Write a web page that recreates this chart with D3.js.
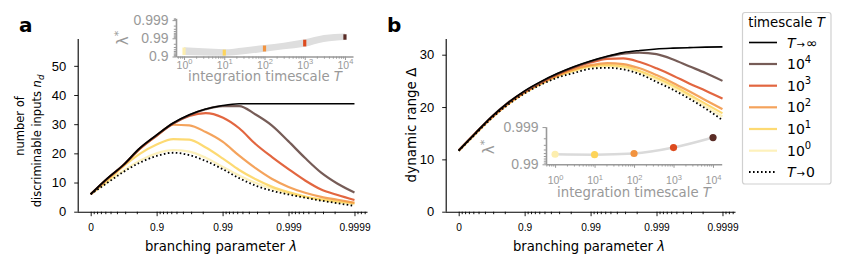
<!DOCTYPE html>
<html><head><meta charset="utf-8">
<script src="https://cdn.jsdelivr.net/npm/d3@7"></script>
<style>
body{margin:0;background:#fff;}
svg{display:block;font-family:"DejaVu Sans",sans-serif;}
</style></head>
<body><svg id="c" width="843" height="267"></svg>
<script>
// ---------- data ----------
const lambdaGrid = [0, 0.44, 0.68, 0.82, 0.9, 0.944, 0.968, 0.982, 0.99, 0.9944, 0.9968, 0.9982, 0.999, 0.99944, 0.99968, 0.99982, 0.9999];
const xTickLambdas = [0, 0.9, 0.99, 0.999, 0.9999];
const xTickLabels = ["0", "0.9", "0.99", "0.999", "0.9999"];
const seriesNames = ["Tinf", "1e4", "1e3", "1e2", "1e1", "1e0", "T0"];
const legendLabels = ["T→∞", "10^4", "10^3", "10^2", "10^1", "10^0", "T→0"];
const seriesColors = ["#000000", "#5e3f3a", "#dd4b1e", "#f2933f", "#fdd45a", "#fdeeb0", "#000000"];

// panel a: number of discriminable inputs n_d
const ndTinf = [6, 11.4, 16, 21.8, 26.3, 30.4, 33.2, 35.2, 36.4, 37, 37, 37, 37, 37, 37, 37, 37];
const nd1e4 = [6, 11.3, 16, 21.7, 26.2, 30.3, 33.1, 35.1, 36.2, 36.2, 33.4, 29.6, 24.1, 18.4, 13.4, 9.6, 6.6];
const nd1e3 = [6, 11.3, 15.9, 21.6, 26.1, 30.2, 32.8, 33.8, 32.3, 28.6, 23.3, 18.8, 14.6, 10.7, 7.6, 5.7, 4.0];
const nd1e2 = [6, 11.2, 15.9, 21.5, 26.0, 29.8, 29.6, 27.3, 24.0, 19.2, 15.0, 11.3, 8.5, 6.5, 5.1, 4.1, 3.1];
const nd1e1 = [6, 10.6, 15.5, 19.8, 23.0, 24.9, 24.7, 22.0, 18.3, 14.3, 11.2, 8.6, 6.7, 5.2, 4.2, 3.5, 2.9];
const nd1e0 = [6, 10.1, 14.0, 17.5, 20.0, 21.1, 20.6, 18.5, 15.4, 12.4, 9.9, 7.9, 6.3, 5.0, 4.0, 3.2, 2.6];
const ndT0 = [6, 9.9, 13.6, 16.8, 19.1, 20.2, 19.4, 17.4, 14.6, 11.5, 9.0, 7.2, 5.9, 4.8, 3.8, 2.9, 2.0];
const ndTicks = [0, 10, 20, 30, 40, 50];

// panel b: dynamic range Delta
const drTinf = [11.7, 15.0, 18.1, 20.8, 23.1, 24.9, 26.4, 27.7, 28.8, 29.7, 30.4, 30.8, 31.1, 31.25, 31.35, 31.45, 31.5];
const dr1e4 = [11.7, 15.0, 18.1, 20.8, 23.0, 24.8, 26.3, 27.6, 28.7, 29.6, 30.2, 30.4, 30.1, 29.1, 27.8, 26.5, 25.0];
const dr1e3 = [11.7, 15.0, 18.0, 20.7, 22.9, 24.7, 26.2, 27.5, 28.5, 29.2, 29.3, 28.6, 27.4, 26.0, 24.5, 23.1, 21.6];
const dr1e2 = [11.7, 14.9, 17.9, 20.6, 22.8, 24.6, 26.0, 27.2, 28.0, 28.4, 28.2, 27.4, 26.1, 24.6, 23.0, 21.3, 19.6];
const dr1e1 = [11.7, 14.9, 17.9, 20.5, 22.7, 24.5, 25.9, 27.0, 27.8, 28.0, 27.8, 26.9, 25.6, 24.1, 22.4, 20.6, 18.8];
const dr1e0 = [11.6, 14.8, 17.8, 20.5, 22.7, 24.4, 25.8, 26.8, 27.6, 27.8, 27.5, 26.6, 25.2, 23.7, 22.0, 20.1, 18.2];
const drT0 = [11.6, 14.8, 17.8, 20.4, 22.6, 24.3, 25.6, 26.5, 27.3, 27.5, 27.2, 26.3, 24.8, 23.3, 21.6, 19.7, 17.5];
const drTicks = [0, 10, 20, 30];

// inset a: band of optimal lambda* (n_d) vs T
const insetT = [1, 3, 10, 30, 100, 300, 1000, 3000, 10000];
const bandLow = [0.9168, 0.9109, 0.9088, 0.9241, 0.9450, 0.9602, 0.9712, 0.9842, 0.9877];
const bandHigh = [0.9691, 0.9645, 0.9602, 0.9684, 0.9766, 0.9826, 0.9888, 0.9934, 0.9946];
const markerT = [1, 10, 100, 1000, 10000];
const markerLow = [0.9180, 0.9110, 0.9470, 0.9720, 0.9880];
const markerHigh = [0.9680, 0.9580, 0.9750, 0.9880, 0.9940];
const markerColors = ["#fdeeae", "#fdd45a", "#f2933f", "#dd4b1e", "#5a2c26"];
const insetAYTicks = [0.9, 0.99, 0.999];
// inset b: optimal lambda* (Delta) vs T
const pointLambda = [0.99463, 0.99450, 0.99487, 0.99645, 0.99809];
const insetBYTicks = [0.99, 0.999];
const insetXTicks = [1, 10, 100, 1000, 10000];
const insetXExps = ["0", "1", "2", "3", "4"];

// ---------- drawing ----------
const svg = d3.select("#c");
const om = l => 1 - l;

function minorLog(lo, hi) {
  const out = [];
  for (let e = -6; e <= 5; e++) for (let k = 2; k <= 9; k++) {
    const v = k * Math.pow(10, e);
    if (v >= lo * 0.9999 && v <= hi * 1.0001) out.push(v);
  }
  return out;
}

function mainPanel(opts) {
  const { x0, x1, yMax, yTicks, series } = opts;
  const yTop = 39, yBot = 211.7;
  const x = d3.scaleLog().domain([Math.pow(10, 0.2), Math.pow(10, -4.19)]).range([x0, x1]);
  const y = d3.scaleLinear().domain([0, yMax]).range([yBot, yTop]);
  const g = svg.append("g");
  const minors = minorLog(Math.pow(10, -4.19), Math.pow(10, 0.2)).filter(v => ![1, 0.1, 0.01, 0.001, 0.0001].some(m => Math.abs(v - m) / m < 1e-6));
  const gxm = g.append("g").attr("transform", `translate(0,${yBot})`)
    .call(d3.axisBottom(x).tickValues(minors).tickSize(2.5).tickFormat(""));
  gxm.select(".domain").remove();
  const gx = g.append("g").attr("transform", `translate(0,${yBot})`)
    .call(d3.axisBottom(x).tickValues(xTickLambdas.map(om)).tickSize(4.5).tickSizeOuter(0).tickPadding(8)
      .tickFormat((d, i) => xTickLabels[i]));
  gx.selectAll("text").attr("font-size", 10.2).attr("fill", "#000");
  const gy = g.append("g").attr("transform", `translate(${x0 + 0.7},0)`)
    .call(d3.axisLeft(y).tickValues(yTicks).tickSize(4).tickSizeOuter(0).tickPadding(8));
  gy.selectAll("text").attr("font-size", 13).attr("fill", "#000");
  g.selectAll(".domain").attr("stroke", "#000").attr("stroke-width", 1.1);
  g.selectAll(".tick line").attr("stroke", "#000").attr("stroke-width", 0.9);
  gy.select(".domain").attr("d", `M0,${yTop}V${yBot}`);

  const line = d3.line().x((d, i) => x(om(lambdaGrid[i]))).y(d => y(d)).curve(d3.curveMonotoneX);
  const order = [5, 4, 3, 2, 1, 0, 6];
  order.forEach(k => {
    const p = g.append("path").attr("d", line(series[k])).attr("fill", "none")
      .attr("stroke", seriesColors[k]);
    if (k === 6) p.attr("stroke-width", 1.8).attr("stroke-dasharray", "1.6,2.4");
    else if (k === 0) p.attr("stroke-width", 1.6);
    else p.attr("stroke-width", 2.2).attr("stroke-opacity", 0.85);
  });
  return { x, y };
}

function insetXAxis(g, xs, yPos, labelDy) {
  const lo = xs.domain()[0], hi = xs.domain()[1];
  const gm = g.append("g").attr("transform", `translate(0,${yPos})`)
    .call(d3.axisBottom(xs).tickValues(minorLog(lo, hi).filter(v => !insetXTicks.includes(v))).tickSize(2.2).tickFormat(""));
  gm.select(".domain").remove();
  const ga = g.append("g").attr("transform", `translate(0,${yPos})`)
    .call(d3.axisBottom(xs).tickValues(insetXTicks).tickSize(3.5).tickSizeOuter(0).tickFormat(""));
  ga.selectAll(".tick").append("text").attr("y", labelDy).attr("text-anchor", "middle")
    .attr("fill", "#999").attr("font-size", 10.5)
    .each(function (d, i) {
      const t = d3.select(this);
      t.append("tspan").text("10");
      t.append("tspan").attr("dy", -4.5).attr("font-size", 7.5).text(insetXExps[i]);
    });
  g.selectAll(".domain").attr("stroke", "#999").attr("stroke-width", 1.6);
  g.selectAll(".tick line").attr("stroke", "#999");
}

function insetYAxis(g, ys, xPos, ticks) {
  const d = ys.domain();
  const lo = Math.min(d[0], d[1]), hi = Math.max(d[0], d[1]);
  const majors = ticks.map(om);
  const gm = g.append("g").attr("transform", `translate(${xPos},0)`)
    .call(d3.axisLeft(ys).tickValues(minorLog(lo, hi).filter(v => !majors.some(m => Math.abs(v - m) / m < 1e-6))).tickSize(2.2).tickFormat(""));
  gm.select(".domain").remove();
  const ga = g.append("g").attr("transform", `translate(${xPos},0)`)
    .call(d3.axisLeft(ys).tickValues(majors).tickSize(3.5).tickSizeOuter(0).tickPadding(4)
      .tickFormat((v, i) => String(ticks[i])));
  ga.selectAll("text").attr("fill", "#999").attr("font-size", 14);
  g.selectAll(".domain").attr("stroke", "#999").attr("stroke-width", 1.6);
  g.selectAll(".tick line").attr("stroke", "#999");
}

function lambdaStarLabel(x, y) {
  const t = svg.append("text").attr("transform", `translate(${x},${y}) rotate(-90)`)
    .attr("text-anchor", "middle").attr("fill", "#999").attr("font-size", 15);
  t.append("tspan").text("λ");
  t.append("tspan").attr("dy", -6).attr("font-size", 11).text("*");
}
function timescaleLabel(x, y) {
  const t = svg.append("text").attr("x", x).attr("y", y).attr("text-anchor", "middle")
    .attr("fill", "#999").attr("font-size", 13.3);
  t.append("tspan").text("integration timescale ");
  t.append("tspan").attr("font-style", "italic").text("T");
}

// ---- panel a ----
mainPanel({ x0: 77.5, x1: 367, yMax: 59.2, yTicks: ndTicks,
  series: [ndTinf, nd1e4, nd1e3, nd1e2, nd1e1, nd1e0, ndT0] });
// ---- panel b ----
mainPanel({ x0: 445.5, x1: 735, yMax: 33, yTicks: drTicks,
  series: [drTinf, dr1e4, dr1e3, dr1e2, dr1e1, dr1e0, drT0] });

// axis labels
[221, 589].forEach(cx => {
  const t = svg.append("text").attr("x", cx).attr("y", 251).attr("text-anchor", "middle").attr("font-size", 13.2);
  t.append("tspan").text("branching parameter ");
  t.append("tspan").attr("font-style", "italic").text("λ");
});
{
  svg.append("text").attr("transform", "translate(24,126) rotate(-90)").attr("text-anchor", "middle").attr("font-size", 11.5).text("number of");
  const t2 = svg.append("text").attr("transform", "translate(41,141) rotate(-90)").attr("text-anchor", "middle").attr("font-size", 11.5);
  t2.append("tspan").text("discriminable inputs ");
  t2.append("tspan").attr("font-style", "italic").text("n");
  t2.append("tspan").attr("font-style", "italic").attr("font-size", 8.5).attr("dy", 3).text("d");
  const t3 = svg.append("text").attr("transform", "translate(416,125) rotate(-90)").attr("text-anchor", "middle").attr("font-size", 13.5);
  t3.append("tspan").text("dynamic range Δ");
}
// panel letters
svg.append("text").attr("x", 19).attr("y", 32).attr("font-size", 20).attr("font-weight", "bold").text("a");
svg.append("text").attr("x", 387).attr("y", 32).attr("font-size", 20).attr("font-weight", "bold").text("b");

// ---- inset a ----
{
  const g = svg.append("g");
  const xs = d3.scaleLog().domain([Math.pow(10, -0.2), Math.pow(10, 4.2)]).range([176, 353]);
  const ys = d3.scaleLog().domain([0.1, Math.pow(10, -3.1)]).range([56.5, 18.3]);
  const area = d3.area().x((d, i) => xs(insetT[i])).y0((d, i) => ys(om(bandLow[i]))).y1((d, i) => ys(om(bandHigh[i]))).curve(d3.curveMonotoneX);
  g.append("path").attr("d", area(insetT)).attr("fill", "#dedede");
  markerT.forEach((T, i) => {
    g.append("line").attr("x1", xs(T)).attr("x2", xs(T))
      .attr("y1", ys(om(markerLow[i]))).attr("y2", ys(om(markerHigh[i])))
      .attr("stroke", markerColors[i]).attr("stroke-width", 3.2);
  });
  insetXAxis(g, xs, 56.5, 12);
  insetYAxis(g, ys, 176, insetAYTicks);
  lambdaStarLabel(128, 38);
  timescaleLabel(265, 81);
}
// ---- inset b ----
{
  const g = svg.append("g");
  const xs = d3.scaleLog().domain([Math.pow(10, -0.23), Math.pow(10, 4.22)]).range([546, 721.7]);
  const ys = d3.scaleLog().domain([0.01, Math.pow(10, -3.01)]).range([164.3, 126.7]);
  const ln = d3.line().x((d, i) => xs(markerT[i])).y(d => ys(om(d))).curve(d3.curveMonotoneX);
  g.append("path").attr("d", ln(pointLambda)).attr("fill", "none").attr("stroke", "#dadada").attr("stroke-width", 2.5);
  g.selectAll("circle.pt").data(pointLambda).join("circle")
    .attr("cx", (d, i) => xs(markerT[i])).attr("cy", d => ys(om(d))).attr("r", 3.6)
    .attr("fill", (d, i) => markerColors[i]);
  insetXAxis(g, xs, 164.3, 20);
  insetYAxis(g, ys, 546, insetBYTicks);
  lambdaStarLabel(494, 147);
  timescaleLabel(634, 197);
}

// ---- legend ----
{
  const g = svg.append("g");
  g.append("rect").attr("x", 742.5).attr("y", 12.5).attr("width", 88.5).attr("height", 171.5)
    .attr("rx", 2.5).attr("fill", "#fff").attr("stroke", "#d0d0d0").attr("stroke-width", 1.2);
  const tt = g.append("text").attr("x", 786.5).attr("y", 27).attr("text-anchor", "middle").attr("font-size", 13.3);
  tt.append("tspan").text("timescale ");
  tt.append("tspan").attr("font-style", "italic").text("T");
  const ys = [42.5, 64, 85.7, 107.3, 129, 150.7, 172];
  seriesNames.forEach((nm, k) => {
    const yy = ys[k];
    const l = g.append("line").attr("x1", 749).attr("x2", 777).attr("y1", yy).attr("y2", yy).attr("stroke", seriesColors[k]);
    if (k === 6) l.attr("stroke-width", 1.8).attr("stroke-dasharray", "1.6,2.4");
    else if (k === 0) l.attr("stroke-width", 1.6);
    else l.attr("stroke-width", 2.2).attr("stroke-opacity", 0.85);
    const t = g.append("text").attr("x", 787).attr("y", yy + 5).attr("font-size", 14);
    const lab = legendLabels[k];
    if (lab.startsWith("10^")) {
      t.append("tspan").text("10");
      t.append("tspan").attr("dy", -6.5).attr("font-size", 10).text(lab.slice(3));
    } else {
      t.append("tspan").attr("font-style", "italic").text("T");
      t.append("tspan").attr("font-size", 10).attr("dx", 1).text(lab.slice(1, 2));
      t.append("tspan").attr("font-size", 14).attr("dx", 1).text(lab.slice(2));
    }
  });
}
</script></body></html>
